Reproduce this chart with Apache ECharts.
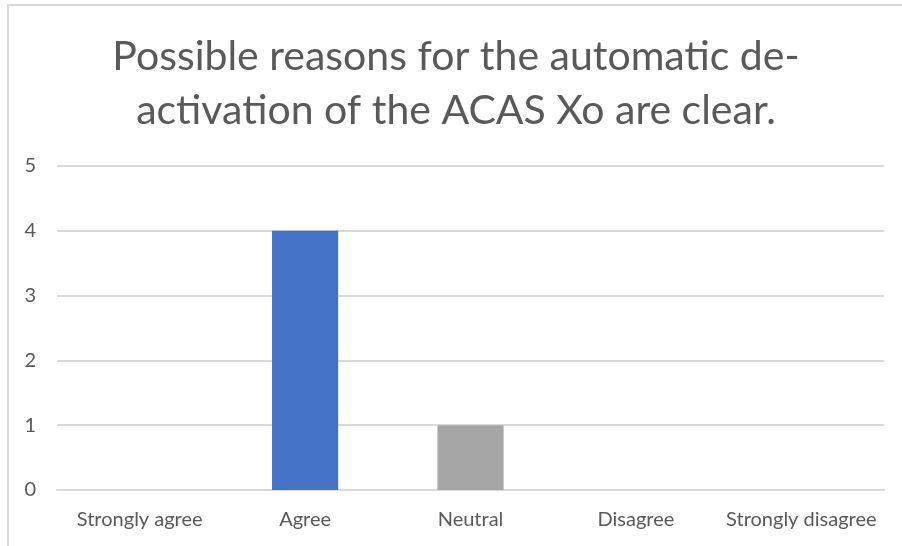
<!DOCTYPE html>
<html>
<head>
<meta charset="utf-8">
<script src="https://cdn.jsdelivr.net/npm/echarts@6/dist/echarts.min.js"></script>
<style>
html,body{margin:0;padding:0;background:#fff;}
#frame{position:absolute;left:7px;top:4px;width:895px;height:542px;border-left:2px solid #d9d9d9;border-top:2px solid #d9d9d9;box-sizing:border-box;}
#chart{position:absolute;left:0;top:0;width:902px;height:546px;}
</style>
</head>
<body>
<div id="frame"></div>
<div id="chart"></div>
<script>
const titleText = "Possible reasons for the automatic de-\nactivation of the ACAS Xo are clear.";
const categories = ["Strongly agree", "Agree", "Neutral", "Disagree", "Strongly disagree"];
const values = [0, 4, 1, 0, 0];
const yTicks = [0, 1, 2, 3, 4, 5];

const barColors = ["#4472C4", "#4472C4", "#A5A5A5", "#4472C4", "#4472C4"];
const textColor = "#595959";
const gridColor = "#d9d9d9";

const chart = echarts.init(document.getElementById('chart'), null, {renderer: 'canvas'});
chart.setOption({
  animation: false,
  backgroundColor: 'transparent',
  title: {
    text: titleText,
    left: 451,
    top: 25,
    textAlign: 'center',
    textStyle: {
      fontFamily: 'Lato',
      fontSize: 41,
      fontWeight: 'normal',
      color: textColor,
      lineHeight: 54
    }
  },
  grid: {left: 57, right: 18, top: 166, bottom: 56, containLabel: false},
  xAxis: {
    type: 'category',
    data: categories,
    axisLine: {show: true, lineStyle: {color: gridColor, width: 2}},
    axisTick: {show: false},
    axisLabel: {interval: 0, color: textColor, fontFamily: 'Lato', fontSize: 20, margin: 20}
  },
  yAxis: {
    type: 'value',
    min: yTicks[0],
    max: yTicks[yTicks.length - 1],
    interval: 1,
    axisLine: {show: false},
    axisTick: {show: false},
    splitLine: {lineStyle: {color: gridColor, width: 2}},
    axisLabel: {color: textColor, fontFamily: 'Lato', fontSize: 20, margin: 21}
  },
  series: [{
    type: 'bar',
    data: values.map((v, i) => ({value: v, itemStyle: {color: barColors[i]}})),
    barWidth: '40%'
  }]
});
</script>
</body>
</html>
